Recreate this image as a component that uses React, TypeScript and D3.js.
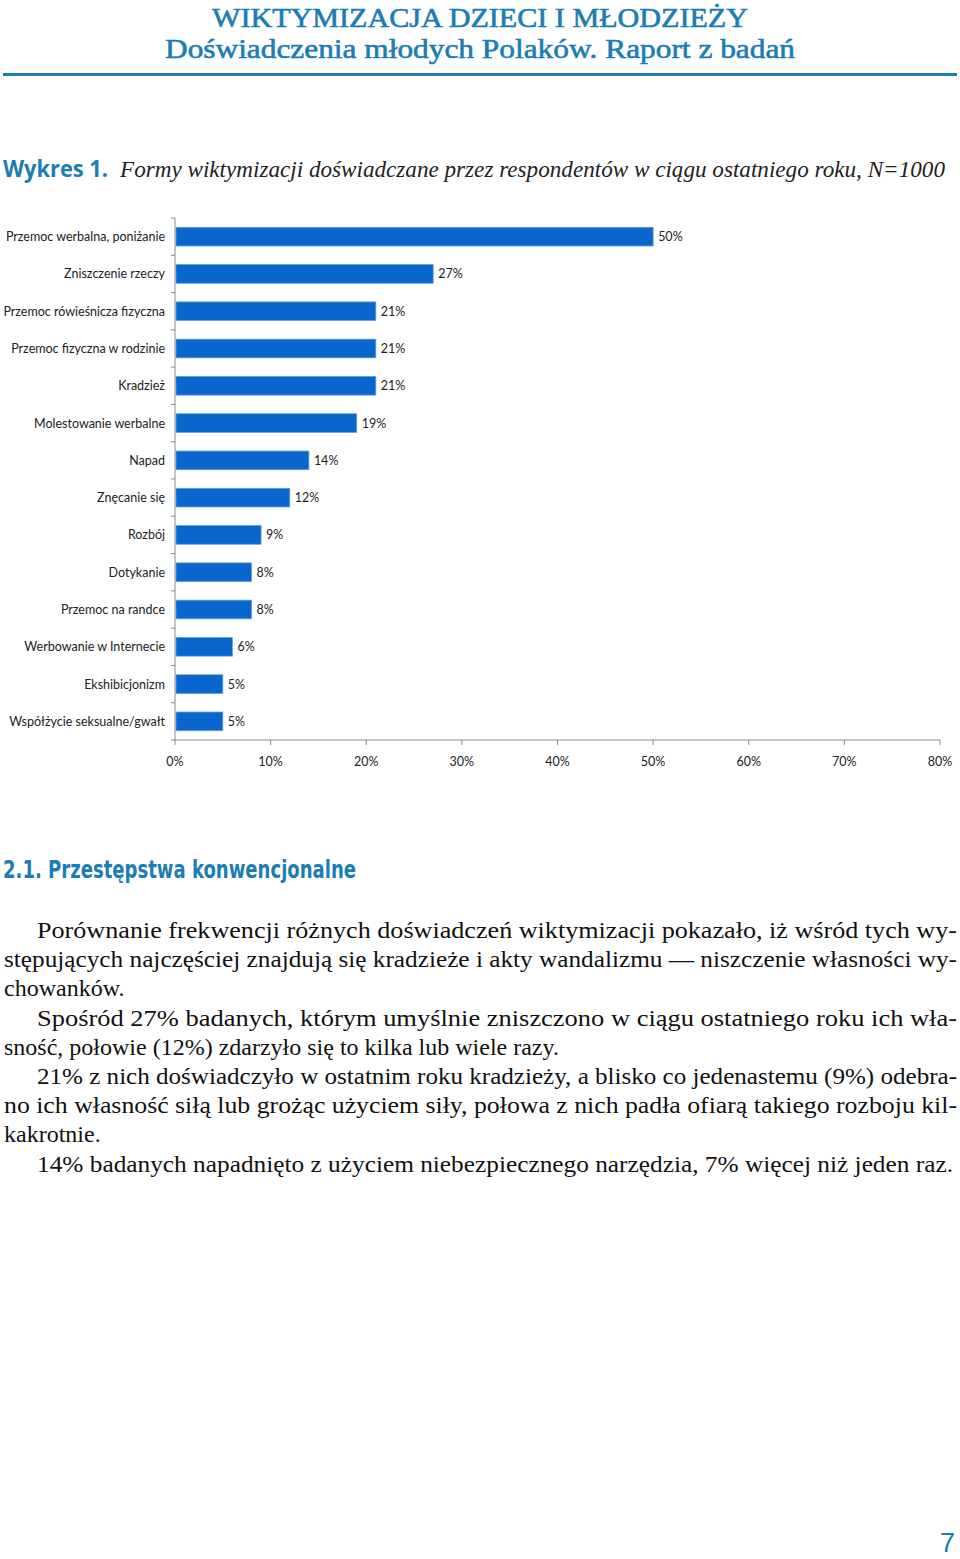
import React from "react";
import * as d3 from "d3";

const categories = [
  "Przemoc werbalna, poniżanie",
  "Zniszczenie rzeczy",
  "Przemoc rówieśnicza fizyczna",
  "Przemoc fizyczna w rodzinie",
  "Kradzież",
  "Molestowanie werbalne",
  "Napad",
  "Znęcanie się",
  "Rozbój",
  "Dotykanie",
  "Przemoc na randce",
  "Werbowanie w Internecie",
  "Ekshibicjonizm",
  "Współżycie seksualne/gwałt",
];
const values = [50, 27, 21, 21, 21, 19, 14, 12, 9, 8, 8, 6, 5, 5];
const xTicks = [0, 10, 20, 30, 40, 50, 60, 70, 80];

const bodyLines = [
  { t: "Porównanie frekwencji różnych doświadczeń wiktymizacji pokazało, iż wśród tych wy-", indent: true, just: true },
  { t: "stępujących najczęściej znajdują się kradzieże i akty wandalizmu — niszczenie własności wy-", indent: false, just: true },
  { t: "chowanków.", indent: false, just: false },
  { t: "Spośród 27% badanych, którym umyślnie zniszczono w ciągu ostatniego roku ich wła-", indent: true, just: true },
  { t: "sność, połowie (12%) zdarzyło się to kilka lub wiele razy.", indent: false, just: false },
  { t: "21% z nich doświadczyło w ostatnim roku kradzieży, a blisko co jedenastemu (9%) odebra-", indent: true, just: true },
  { t: "no ich własność siłą lub grożąc użyciem siły, połowa z nich padła ofiarą takiego rozboju kil-", indent: false, just: true },
  { t: "kakrotnie.", indent: false, just: false },
  { t: "14% badanych napadnięto z użyciem niebezpiecznego narzędzia, 7% więcej niż jeden raz.", indent: true, just: true },
];

const BLUE = "#1a7db3";
const BAR = "#0866cc";

export default function App() {
  const x = d3.scaleLinear().domain([0, 80]).range([175, 940]);
  const y = d3.scaleBand<string>().domain(categories).range([218, 740]).paddingInner(0.5).paddingOuter(0.25);
  const band = (740 - 218) / categories.length;
  const chartFont = "Lato, 'Open Sans', sans-serif";
  const serif = "'Liberation Serif', 'DejaVu Serif', serif";

  return (
    <svg width={960} height={1559} style={{ position: "absolute", left: 0, top: 0, background: "#fff" }}>
      {/* header */}
      <text x={480} y={27} textAnchor="middle" fontFamily={serif} fontSize={27} fill={BLUE} stroke={BLUE} strokeWidth={0.6} textLength={536} lengthAdjust="spacingAndGlyphs">
        WIKTYMIZACJA DZIECI I MŁODZIEŻY
      </text>
      <text x={480} y={58} textAnchor="middle" fontFamily={serif} fontSize={28} fill={BLUE} stroke={BLUE} strokeWidth={0.6} textLength={630} lengthAdjust="spacingAndGlyphs">
        Doświadczenia młodych Polaków. Raport z badań
      </text>
      <rect x={3} y={73} width={954} height={3} fill={BLUE} />

      {/* chart title */}
      <text x={3} y={177} fontFamily="'Open Sans', Lato, sans-serif" fontWeight="bold" fontSize={23} fill={BLUE} textLength={105} lengthAdjust="spacingAndGlyphs">
        Wykres 1.
      </text>
      <text x={120} y={177} fontFamily={serif} fontStyle="italic" fontSize={23} fill="#222" textLength={825} lengthAdjust="spacingAndGlyphs">
        Formy wiktymizacji doświadczane przez respondentów w ciągu ostatniego roku, N=1000
      </text>

      {/* y axis */}
      <line x1={175} x2={175} y1={218} y2={740} stroke="#8c8c8c" strokeWidth={1} />
      {d3.range(categories.length + 1).map((i) => (
        <line key={"yt" + i} x1={171} x2={175} y1={218 + i * band} y2={218 + i * band} stroke="#8c8c8c" />
      ))}
      {/* x axis */}
      <line x1={175} x2={940} y1={740} y2={740} stroke="#8c8c8c" strokeWidth={1} />
      {xTicks.map((t) => (
        <g key={"xt" + t}>
          <line x1={x(t)} x2={x(t)} y1={740} y2={745} stroke="#8c8c8c" />
          <text x={x(t)} y={766} textAnchor="middle" fontFamily={chartFont} fontSize={12.5} fill="#222">
            {t}%
          </text>
        </g>
      ))}

      {/* bars */}
      {categories.map((c, i) => {
        const yy = y(c)!;
        const bh = y.bandwidth();
        return (
          <g key={c}>
            <rect x={x(0) + 1} y={yy} width={x(values[i]) - x(0) - 1} height={bh} fill={BAR} stroke="#5d9de0" strokeWidth={0.8} />
            <text x={165} y={yy + bh / 2 + 4.5} textAnchor="end" fontFamily={chartFont} fontSize={12.5} fill="#222">
              {c}
            </text>
            <text x={x(values[i]) + 5} y={yy + bh / 2 + 4.5} fontFamily={chartFont} fontSize={12.5} fill="#222">
              {values[i]}%
            </text>
          </g>
        );
      })}

      {/* section heading */}
      <text x={3} y={878} fontFamily="'Liberation Sans Narrow', 'DejaVu Sans Condensed', 'Liberation Sans', sans-serif" fontWeight="bold" fontSize={25} fill={BLUE} textLength={353} lengthAdjust="spacingAndGlyphs">
        2.1. Przestępstwa konwencjonalne
      </text>

      {/* body text */}
      {bodyLines.map((l, i) => {
        const x0 = l.indent ? 37 : 4;
        const props: any = {};
        if (l.just) {
          props.textLength = (i === 8 ? 953 : 957) - x0;
          props.lengthAdjust = "spacingAndGlyphs";
        }
        return (
          <text key={"b" + i} x={x0} y={938 + i * 29.2} fontFamily={serif} fontSize={24} fill="#111" {...props}>
            {l.t}
          </text>
        );
      })}

      {/* page number */}
      <text x={955} y={1552} textAnchor="end" fontFamily="'Liberation Sans', Arial, sans-serif" fontSize={27} fill={BLUE}>
        7
      </text>
    </svg>
  );
}
